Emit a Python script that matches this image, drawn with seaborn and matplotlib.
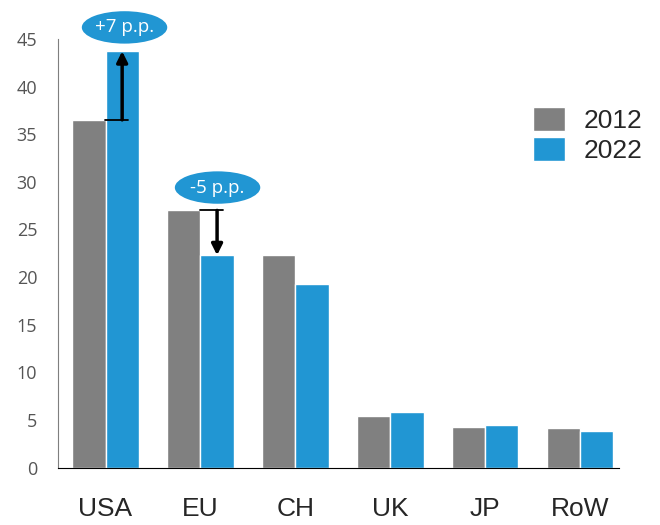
import numpy as np
import pandas as pd
import matplotlib
matplotlib.use("Agg")
import matplotlib.pyplot as plt
import seaborn as sns
from matplotlib.patches import Ellipse

# data
regions = ["USA", "EU", "CH", "UK", "JP", "RoW"]
share_2012 = [36.5, 27.0, 22.3, 5.4, 4.3, 4.2]
share_2022 = [43.7, 22.3, 19.3, 5.9, 4.5, 3.9]
years = ["2012", "2022"]
changes = {"USA": "+7 p.p.", "EU": "-5 p.p."}

df = pd.DataFrame({
    "region": regions * 2,
    "year": [years[0]] * len(regions) + [years[1]] * len(regions),
    "share": share_2012 + share_2022,
})

sns.set_style("white")
plt.rcParams["font.family"] = ["Liberation Sans", "DejaVu Sans"]

fig = plt.figure(figsize=(6.6, 5.25), dpi=100)
ax = fig.add_axes([0.088, 0.109, 0.85, 0.817])

sns.barplot(data=df, x="region", y="share", hue="year",
            palette=["#808080", "#2196d3"], width=0.7, saturation=1,
            edgecolor="white", linewidth=1, ax=ax)

ax.set_xlim(-0.5, 5.41)
ax.set_ylim(0, 45)
ax.set_yticks(np.arange(0, 46, 5))
ax.set_xlabel("")
ax.set_ylabel("")

for s in ["top", "right"]:
    ax.spines[s].set_visible(False)
ax.spines["left"].set_color("#7f7f7f")
ax.spines["bottom"].set_color("black")
ax.tick_params(axis="y", length=6, color="#7f7f7f", labelcolor="#555555",
               labelsize=13, pad=9)
for lab in ax.get_yticklabels():
    lab.set_family(["Open Sans", "DejaVu Sans"])
ax.tick_params(axis="x", length=0, labelsize=19, pad=21)

ax.legend(frameon=False, fontsize=19, loc="upper left",
          bbox_to_anchor=(0.828, 0.865), handlelength=1.2, handleheight=1.0,
          handletextpad=0.7, labelspacing=0.15, borderaxespad=0)

# change arrows and bubbles
bubble_pos = {"USA": (0.2, 46.2), "EU": (1.18, 29.4)}
for r, txt in changes.items():
    i = regions.index(r)
    v0 = share_2012[i]
    v1 = share_2022[i]
    x = i + 0.175
    ax.plot([i - 0.01, i + 0.24], [v0, v0], color="black", lw=1.3, clip_on=False)
    ax.annotate("", xy=(x, v1), xytext=(x, v0),
                arrowprops=dict(arrowstyle="-|>", color="black", lw=2.5,
                                mutation_scale=16, shrinkA=0, shrinkB=0),
                annotation_clip=False)
    bx, by = bubble_pos[r]
    ax.add_patch(Ellipse((bx, by), 0.9, 3.4, facecolor="#2196d3",
                         edgecolor="none", clip_on=False))
    ax.text(bx, by, txt, ha="center", va="center", color="white",
            fontsize=13.5, family=["Open Sans", "DejaVu Sans"])

fig.savefig("out.png", dpi=100)
